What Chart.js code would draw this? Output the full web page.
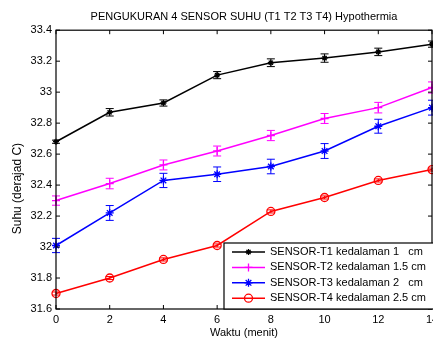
<!DOCTYPE html>
<html>
<head>
<meta charset="utf-8">
<script src="https://cdn.jsdelivr.net/npm/chart.js@4.4.0/dist/chart.umd.min.js"></script>
<style>
  html, body { margin: 0; padding: 0; background: #fff; overflow: hidden; }
  #wrap { width: 433px; height: 340px; overflow: hidden; }
</style>
</head>
<body>
<div id="wrap"><canvas id="myChart" width="443" height="340"></canvas></div>
<script>
// Data
const waktu = [0, 2, 4, 6, 8, 10, 12, 14];
const suhuT1 = [32.68, 32.87, 32.93, 33.11, 33.19, 33.22, 33.26, 33.31];
const errT1 = [0.01, 0.024, 0.02, 0.023, 0.025, 0.027, 0.024, 0.02];
const suhuT2 = [32.30, 32.41, 32.53, 32.62, 32.72, 32.83, 32.90, 33.03];
const errT2 = [0.03, 0.034, 0.032, 0.032, 0.033, 0.032, 0.034, 0.036];
const suhuT3 = [32.01, 32.22, 32.43, 32.47, 32.52, 32.62, 32.78, 32.90];
const errT3 = [0.046, 0.048, 0.046, 0.047, 0.047, 0.048, 0.045, 0.048];
const suhuT4 = [31.70, 31.80, 31.92, 32.01, 32.23, 32.32, 32.43, 32.50];
const errT4 = [0.01, 0.01, 0.01, 0.01, 0.01, 0.01, 0.01, 0.01];
const namaSensor = [
  'SENSOR-T1 kedalaman 1   cm',
  'SENSOR-T2 kedalaman 1.5 cm',
  'SENSOR-T3 kedalaman 2   cm',
  'SENSOR-T4 kedalaman 2.5 cm'
];
const xTicks = [0, 2, 4, 6, 8, 10, 12, 14];
const yTicks = [31.6, 31.8, 32, 32.2, 32.4, 32.6, 32.8, 33, 33.2, 33.4];

const FONT = 'Arial, "Liberation Sans", Helvetica, sans-serif';

function toPoints(values) {
  return waktu.map((t, i) => ({ x: t, y: values[i] }));
}

function makeDataset(label, values, errs, color, style, radius) {
  return {
    label: label,
    data: toPoints(values),
    errors: errs,
    borderColor: color,
    backgroundColor: 'transparent',
    borderWidth: 1.5,
    pointStyle: style,
    pointRadius: radius,
    pointBorderWidth: 1.3,
    pointBorderColor: color,
    pointBackgroundColor: 'transparent',
    tension: 0,
    clip: false
  };
}

// vertical error bars with caps
const errorBarPlugin = {
  id: 'errorBars',
  afterDatasetsDraw(chart) {
    const ctx = chart.ctx;
    const y = chart.scales.y;
    chart.data.datasets.forEach((ds, i) => {
      const meta = chart.getDatasetMeta(i);
      ctx.save();
      ctx.strokeStyle = ds.borderColor;
      ctx.lineWidth = 1;
      meta.data.forEach((pt, j) => {
        const v = ds.data[j].y;
        const top = y.getPixelForValue(v + ds.errors[j]);
        const bot = y.getPixelForValue(v - ds.errors[j]);
        ctx.beginPath();
        ctx.moveTo(pt.x, top); ctx.lineTo(pt.x, bot);
        ctx.moveTo(pt.x - 4, top); ctx.lineTo(pt.x + 4, top);
        ctx.moveTo(pt.x - 4, bot); ctx.lineTo(pt.x + 4, bot);
        ctx.stroke();
      });
      ctx.restore();
    });
  }
};

// MATLAB style box with inward ticks
const boxPlugin = {
  id: 'box',
  afterDatasetsDraw(chart) {
    const { ctx, chartArea: a, scales: { x, y } } = chart;
    ctx.save();
    ctx.strokeStyle = '#000';
    ctx.lineWidth = 1.2;
    ctx.strokeRect(a.left, a.top, a.right - a.left, a.bottom - a.top);
    ctx.lineWidth = 1;
    ctx.beginPath();
    xTicks.forEach(t => {
      const px = x.getPixelForValue(t);
      ctx.moveTo(px, a.bottom); ctx.lineTo(px, a.bottom - 4);
      ctx.moveTo(px, a.top); ctx.lineTo(px, a.top + 4);
    });
    yTicks.forEach(t => {
      const py = y.getPixelForValue(t);
      ctx.moveTo(a.left, py); ctx.lineTo(a.left + 4, py);
      ctx.moveTo(a.right, py); ctx.lineTo(a.right - 4, py);
    });
    ctx.stroke();

    // y axis title
    ctx.fillStyle = '#000';
    ctx.font = '12px ' + FONT;
    ctx.textAlign = 'center';
    ctx.textBaseline = 'middle';
    ctx.translate(17.5, (a.top + a.bottom) / 2 + 19);
    ctx.rotate(-Math.PI / 2);
    ctx.fillText('Suhu (derajad C)', 0, 0);
    ctx.restore();
  }
};

// legend box in the lower right corner of the plot
const legendPlugin = {
  id: 'legendBox',
  afterDraw(chart) {
    const { ctx, chartArea: a } = chart;
    const bx = a.left + 168;
    const by = a.bottom - 66;
    ctx.save();
    ctx.fillStyle = '#fff';
    ctx.strokeStyle = '#000';
    ctx.lineWidth = 1.2;
    ctx.fillRect(bx, by, a.right + 4 - bx, a.bottom - by);
    ctx.strokeRect(bx, by, a.right + 4 - bx, a.bottom - by);
    ctx.font = '11px ' + FONT;
    ctx.textBaseline = 'middle';
    chart.data.datasets.forEach((ds, i) => {
      const ry = by + 9 + i * 15.4;
      ctx.strokeStyle = ds.borderColor;
      ctx.lineWidth = ds.borderWidth;
      ctx.beginPath();
      ctx.moveTo(bx + 8, ry); ctx.lineTo(bx + 41, ry);
      ctx.stroke();
      ctx.lineWidth = ds.pointBorderWidth;
      ctx.fillStyle = 'transparent';
      Chart.helpers.drawPoint(ctx, { pointStyle: ds.pointStyle, radius: ds.pointRadius, rotation: 0, borderWidth: ds.pointBorderWidth }, bx + 24.5, ry);
      ctx.fillStyle = '#000';
      ctx.fillText(ds.label, bx + 46, ry);
    });
    ctx.restore();
  }
};

const ctx = document.getElementById('myChart').getContext('2d');

const chart = new Chart(ctx, {
  type: 'line',
  data: {
    datasets: [
      makeDataset(namaSensor[0], suhuT1, errT1, '#000000', 'star', 3),
      makeDataset(namaSensor[1], suhuT2, errT2, '#ff00ff', 'cross', 4),
      makeDataset(namaSensor[2], suhuT3, errT3, '#0000ff', 'star', 4),
      makeDataset(namaSensor[3], suhuT4, errT4, '#ff0000', 'circle', 4)
    ]
  },
  options: {
    responsive: false,
    animation: false,
    layout: { padding: { left: 0, right: 11, top: 0, bottom: 0 } },
    plugins: {
      legend: { display: false },
      tooltip: { enabled: false },
      title: {
        display: true,
        fullSize: false,
        text: 'PENGUKURAN 4 SENSOR SUHU (T1 T2 T3 T4) Hypothermia',
        color: '#000',
        font: { family: FONT, size: 11, weight: 'normal' },
        padding: { top: 10, bottom: 7 }
      }
    },
    scales: {
      x: {
        type: 'linear',
        min: 0,
        max: 14,
        afterBuildTicks: s => { s.ticks = xTicks.map(v => ({ value: v })); },
        afterFit: s => { s.height = 31; },
        grid: { display: false, drawTicks: false },
        border: { display: false },
        ticks: {
          color: '#000',
          font: { family: FONT, size: 11 },
          padding: 4,
          maxRotation: 0,
          autoSkip: false
        },
        title: {
          display: true,
          text: 'Waktu (menit)',
          color: '#000',
          font: { family: FONT, size: 11 },
          padding: { top: 0, bottom: 0 }
        }
      },
      y: {
        min: 31.6,
        max: 33.4,
        afterBuildTicks: s => { s.ticks = yTicks.map(v => ({ value: v })); },
        afterFit: s => { s.width = 56; },
        grid: { display: false, drawTicks: false },
        border: { display: false },
        ticks: {
          color: '#000',
          font: { family: FONT, size: 11 },
          padding: 4,
          callback: v => String(Number(v.toFixed(1)))
        }
      }
    }
  },
  plugins: [errorBarPlugin, boxPlugin, legendPlugin]
});
</script>
</body>
</html>
